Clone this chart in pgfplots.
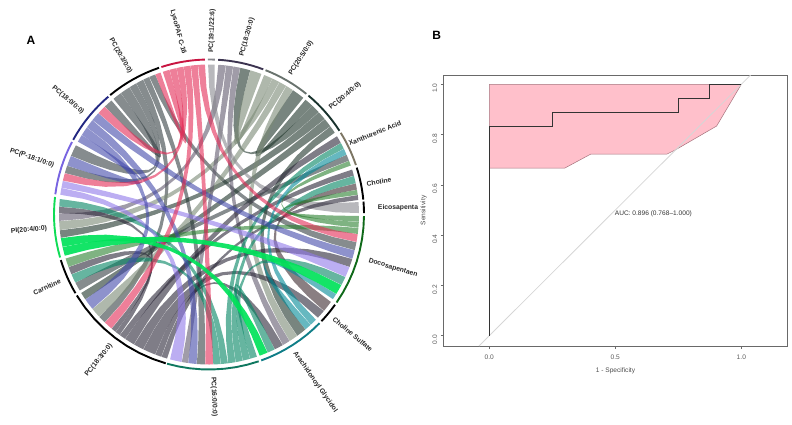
\documentclass[border=0pt]{standalone}
\usepackage{pgfplots}
\usepackage{fontspec}
\setmainfont{Liberation Sans}
\pgfplotsset{compat=1.18}

% ribbon base colours, drawn at opacity .6
\definecolor{cpink}{RGB}{227,42,85}
\definecolor{cgrey}{RGB}{53,63,67}
\definecolor{cperi}{RGB}{67,73,170}
\definecolor{clav}{RGB}{143,120,233}
\definecolor{cbright}{RGB}{0,226,90}
\definecolor{cteal}{RGB}{0,132,97}
\definecolor{ccyan}{RGB}{0,137,150}
\definecolor{cdark}{RGB}{42,38,55}
\definecolor{cgreen}{RGB}{42,128,47}
\definecolor{colive}{RGB}{122,137,117}
\definecolor{cdolive}{RGB}{30,52,42}
\definecolor{cmauve}{RGB}{97,90,110}
\definecolor{clight}{RGB}{137,137,143}
\definecolor{cbrown}{RGB}{60,42,47}
% track colours
\definecolor{txan}{RGB}{125,118,100}
\definecolor{t204}{RGB}{25,50,45}
\definecolor{t205}{RGB}{105,115,110}
\definecolor{t182}{RGB}{60,52,80}
\definecolor{t191}{RGB}{135,135,140}
\definecolor{tlyso}{RGB}{200,20,65}
\definecolor{t180}{RGB}{35,40,130}
\definecolor{tp18}{RGB}{120,100,225}
\definecolor{tpi}{RGB}{15,220,85}
\definecolor{t160}{RGB}{15,120,95}
\definecolor{tara}{RGB}{15,125,135}
\definecolor{tdoc}{RGB}{15,105,25}
\definecolor{axgrey}{RGB}{105,105,105}
\definecolor{rocpink}{RGB}{255,192,203}
\definecolor{rocedge}{RGB}{165,115,125}

\def\cx{209}\def\cy{214.5}\def\Rr{150}\def\Rt{155}

% ribbon outline: quadratic edges with the control point at the circle centre
\newcommand\bez[2]{\foreach \tpar in {0,.08,.16,.25,.33,.42,.5,.58,.67,.75,.84,.92,1}{%
  \pgfmathsetmacro\upar{1-\tpar}%
  \pgfmathsetmacro\px{\cx+\Rr*(\upar*\upar*cos(#1)+\tpar*\tpar*cos(#2))}%
  \pgfmathsetmacro\py{\cy-\Rr*(\upar*\upar*sin(#1)+\tpar*\tpar*sin(#2))}%
  \xdef\pts{\pts (\px,\py)}}}
\newcommand\rimpt[2]{%
  \pgfmathsetmacro\mid{(#1+#2)/2}%
  \pgfmathsetmacro\px{\cx+\Rr*cos(\mid)}%
  \pgfmathsetmacro\py{\cy-\Rr*sin(\mid)}%
  \xdef\pts{\pts (\px,\py)}}
\newcommand\ribbon[6][.6]{%
  \pgfmathsetmacro\aa{#3+.06}\pgfmathsetmacro\ab{#4-.06}%
  \pgfmathsetmacro\ba{#5+.06}\pgfmathsetmacro\bb{#6-.06}%
  \gdef\pts{}%
  \bez{\ab}{\ba}\rimpt{\ba}{\bb}\bez{\bb}{\aa}\rimpt{\aa}{\ab}%
  \edef\doplot{\noexpand\addplot[draw=none,fill=#2,fill opacity=#1] coordinates {\pts};}\doplot}
\newcommand\track[3]{%
  \gdef\pts{}%
  \foreach \fr in {0,.125,.25,.375,.5,.625,.75,.875,1}{%
    \pgfmathsetmacro\ang{#2+\fr*(#3-#2)}%
    \pgfmathsetmacro\px{\cx+\Rt*cos(\ang)}%
    \pgfmathsetmacro\py{\cy-\Rt*sin(\ang)}%
    \xdef\pts{\pts (\px,\py)}}%
  \edef\doplot{\noexpand\addplot[#1,line width=1.9pt] coordinates {\pts};}\doplot}
\newcommand\lab[4]{\node[font=\fontsize{6.8}{8}\selectfont\bfseries,text=black!85,rotate=#3] at (axis cs:#1,#2) {#4};}

\begin{document}
\begin{tikzpicture}[x=1pt,y=1pt]
\path[use as bounding box] (0,0) rectangle (792,424);
\begin{axis}[
  at={(0,0)}, anchor=south west,
  width=792pt, height=424pt, scale only axis,
  xmin=0, xmax=792, ymin=0, ymax=424, y dir=reverse,
  hide axis, clip=false,
]
  % greys first
  \ribbon{cgrey}{126}{129.6}{130.5}{134}
  \ribbon{cgrey}{122}{126}{152.5}{157}
  \ribbon{cgrey}{119}{122}{161}{164}
  \ribbon{cgrey}{116}{119}{223}{226}
  \ribbon{cgrey}{113.5}{116}{265.3}{268.5}
  \ribbon{cgrey}{111}{113.5}{346.2}{349.4}
  \ribbon{cdolive}{46.5}{50}{51}{56}
  \ribbon{cdolive}{43}{46.5}{74}{78}
  \ribbon{cdolive}{39.5}{43}{186}{189}
  \ribbon{cdolive}{36}{39.5}{211.5}{214.5}
  \ribbon{cdolive}{33}{36}{306}{310}
  \ribbon{colive}{65}{68.5}{69.5}{74}
  \ribbon{colive}{62}{65}{182.5}{186}
  \ribbon{colive}{59}{62}{219}{223}
  \ribbon{colive}{56}{59}{302.5}{306}
  \ribbon{cmauve}{83.5}{86.5}{179.5}{182.5}
  \ribbon{cmauve}{80.7}{83.5}{259.5}{262}
  \ribbon{cmauve}{78}{80.7}{299.5}{302.5}
  \ribbon{clight}{87.8}{90.4}{0.5}{4.8}
  % PC(18:3/0:0)
  \ribbon{cdark}{251.5}{253.8}{5.5}{7.5}
  \ribbon{cdark}{249}{251.5}{296}{299.5}
  \ribbon{cdark}{244}{249}{316.5}{320}
  \ribbon{cdark}{240}{244}{339.5}{342.8}
  \ribbon{cdark}{236}{240}{28.5}{31.5}
  \ribbon{cdark}{233.5}{236}{15}{17.5}
  \ribbon{cdark}{231.5}{233.5}{177}{179.5}
  \ribbon{cdark}{229.5}{231.5}{200.5}{203.5}
  \ribbon{cbrown}{9.5}{12}{320}{324.4}
  \ribbon{cgrey}{21}{23.5}{207}{210.5}
  % PC(16:0/0:0)
  \ribbon{cteal}{271.6}{274.5}{203.5}{207}
  \ribbon{cteal}{274.5}{277.3}{174}{177}
  \ribbon{cteal}{277.3}{280.2}{26}{28.5}
  \ribbon{cteal}{280.2}{283}{12}{15}
  \ribbon{cteal}{283}{285.9}{332}{335.4}
  \ribbon{cteal}{285.9}{288.7}{293}{296}
  % Docosapentaenoic, Arachidonoyl
  \ribbon{cgreen}{357.2}{359.5}{7.5}{9.5}
  \ribbon{cgreen}{354.9}{357.2}{19}{21}
  \ribbon{cgreen}{352.5}{354.9}{197}{200.5}
  \ribbon{ccyan}{325.6}{328}{310}{312.7}
  \ribbon{ccyan}{23.5}{26}{312.7}{315.5}
  % PC(P-18:1/0:0), PC(18:0/0:0)
  \ribbon{clav}{169.75}{172.5}{254.9}{259.5}
  \ribbon{clav}{167}{169.75}{335.4}{339.5}
  \ribbon{cperi}{148}{151}{157}{161}
  \ribbon{cperi}{144.5}{148}{214.5}{219}
  \ribbon{cperi}{141}{144.5}{262}{265.3}
  \ribbon{cperi}{137.5}{141}{342.8}{346.2}
  % LysoPAF C-16
  \ribbon{cpink}{105.25}{108}{108.8}{111}
  \ribbon{cpink}{102.5}{105.25}{134}{137.5}
  \ribbon{cpink}{99.75}{102.5}{164}{167}
  \ribbon{cpink}{97}{99.75}{226}{229.5}
  \ribbon{cpink}{94.25}{97}{268.5}{271.6}
  \ribbon{cpink}{91.5}{94.25}{349.4}{352.5}
  % PI(20:4/0:0)
  \ribbon[.92]{cbright}{189}{192.5}{289.7}{293}
  \ribbon[.92]{cbright}{192.5}{196}{328}{332}
  % outer tracks
  \track{black}{0.5}{4.8}
  \track{black}{5.5}{17.6}
  \track{txan}{18.6}{31.8}
  \track{t204}{32.7}{50.1}
  \track{t205}{51.1}{68.6}
  \track{t182}{69.5}{86.6}
  \track{t191}{87.8}{90.4}
  \track{tlyso}{91.5}{107.9}
  \track{black}{108.8}{129.6}
  \track{t180}{130.5}{151.2}
  \track{tp18}{152.1}{172.5}
  \track{tpi}{173.5}{196.1}
  \track{black}{197.1}{210.5}
  \track{black}{211.5}{253.8}
  \track{t160}{254.3}{288.7}
  \track{tara}{289.7}{315.5}
  \track{black}{316.5}{324.4}
  \track{tdoc}{325.4}{359.4}
  % sector names
  \lab{178}{32}{-75}{LysoPAF C-16}
  \lab{212}{31}{88}{PC(19:1/22:6)}
  \lab{247}{37}{74}{PC(18:2/0:0)}
  \lab{301}{58}{57}{PC(20:5/0:0)}
  \lab{345}{96}{40}{PC(20:4/0:0)}
  \lab{375}{133}{22}{Xanthurenic Acid}
  \lab{379}{182}{10}{Choline}
  \lab{398}{208}{0}{Eicosapenta}
  \lab{393}{268}{-17}{Docosapentaen}
  \lab{352.7}{334.3}{-40}{Choline Sulfate}
  \lab{315.3}{382}{-55}{Arachidonoyl Glycidol}
  \lab{214}{397}{-88}{PC(16:0/0:0)}
  \lab{98.7}{360.3}{51}{PC(18:3/0:0)}
  \lab{47}{287}{24}{Carnitine}
  \lab{29}{230}{5}{PI(20:4/0:0)}
  \lab{32}{158}{-19}{PC(P-18:1/0:0)}
  \lab{68}{100}{-40}{PC(18:0/0:0)}
  \lab{120.7}{56}{-60}{PC(20:3/0:0)}
  \node[font=\fontsize{12}{14}\selectfont\bfseries] at (axis cs:31,40) {A};
  \node[font=\fontsize{12}{14}\selectfont\bfseries] at (axis cs:436.7,35) {B};
\end{axis}

\begin{axis}[
  at={(443.3pt,78pt)}, anchor=south west,
  width=344.4pt, height=271pt, scale only axis,
  xmin=-0.1825, xmax=1.184, ymin=-0.041, ymax=1.037,
  axis line style={axgrey,line width=1pt},
  xtick={0,0.5,1}, ytick={0,0.2,0.4,0.6,0.8,1},
  tick align=outside, xtick pos=bottom, ytick pos=left,
  tick style={axgrey,line width=.5pt},
  major tick length=2.5pt,
  /pgf/number format/assume math mode=true,
  /pgf/number format/fixed, /pgf/number format/fixed zerofill, /pgf/number format/precision=1,
  ticklabel style={font=\fontsize{6.6}{7}\selectfont,text=black!65},
  yticklabel style={rotate=90,anchor=south,xshift=-4pt},
  xticklabel style={yshift=-3pt},
  xlabel={1 - Specificity}, xlabel style={font=\fontsize{6.6}{7}\selectfont,text=black!70,yshift=-1pt},
  ylabel={Sensitivity}, ylabel style={font=\fontsize{6.6}{7}\selectfont,text=black!70,yshift=-1pt},
]
  \addplot[fill=rocpink,draw=rocedge,line width=.5pt] coordinates {
    (0,1) (1,1) (0.902,0.834) (0.74,0.74) (0.704,0.722) (0.402,0.722) (0.30,0.667) (0,0.667) (0,1)
  };
  \addplot[black!16,line width=.8pt] coordinates {(-0.041,-0.041) (1.037,1.037)};
  \addplot[black!80,line width=1pt] coordinates {
    (0,0) (0,0.833) (0.25,0.833) (0.25,0.889) (0.75,0.889) (0.75,0.944) (0.875,0.944) (0.875,1) (1,1)
  };
  \node[font=\fontsize{6.6}{7}\selectfont,text=black!80] at (axis cs:0.651,0.484) {AUC: 0.896 (0.768--1.000)};
\end{axis}
\end{tikzpicture}
\end{document}
